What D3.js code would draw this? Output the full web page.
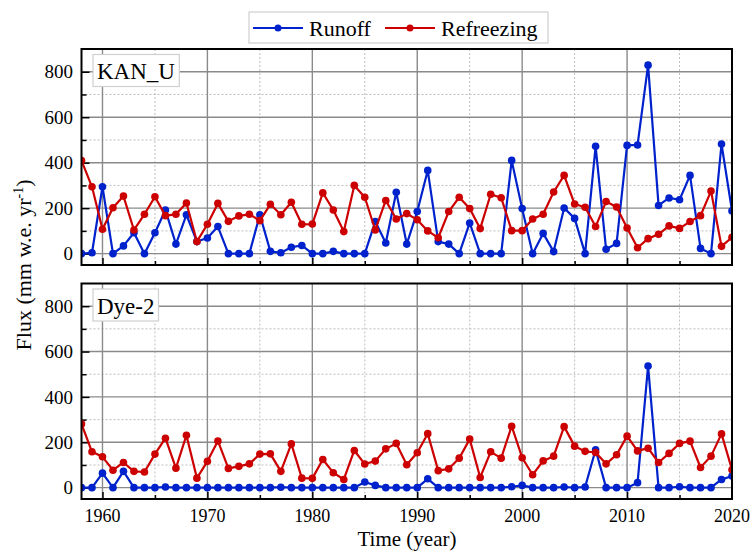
<!DOCTYPE html>
<html>
<head>
<meta charset="utf-8">
<script src="https://cdn.jsdelivr.net/npm/d3@7"></script>
<style>
html,body{margin:0;padding:0;background:#fff;}
svg{display:block;font-family:"Liberation Serif","Times New Roman",serif;}
</style>
</head>
<body>
<svg id="chart" width="751" height="551"></svg>
<script>
const years = [1958,1959,1960,1961,1962,1963,1964,1965,1966,1967,
  1968,1969,1970,1971,1972,1973,1974,1975,1976,1977,
  1978,1979,1980,1981,1982,1983,1984,1985,1986,1987,
  1988,1989,1990,1991,1992,1993,1994,1995,1996,1997,
  1998,1999,2000,2001,2002,2003,2004,2005,2006,2007,
  2008,2009,2010,2011,2012,2013,2014,2015,2016,2017,
  2018,2019,2020];

const kanRunoff = [0,4,294,0,34,92,0,92,192,42,
  171,53,69,119,0,0,0,171,10,4,
  28,36,0,0,10,0,0,0,141,47,
  270,42,185,366,53,42,0,135,0,0,
  0,410,198,0,89,9,201,155,0,472,
  19,45,476,478,829,212,245,237,344,23,
  0,482,188];
const kanRefreezing = [409,294,107,202,253,104,173,250,167,173,
  223,53,129,221,142,166,173,145,217,171,
  226,129,130,267,192,97,300,248,104,234,
  152,176,149,100,70,185,248,198,110,261,
  246,101,101,152,173,271,344,218,204,119,
  229,205,113,26,66,85,122,111,141,167,
  275,32,72];
const dyeRunoff = [0,0,64,0,72,0,0,0,3,0,
  0,0,0,0,0,0,0,0,0,2,
  0,0,0,0,0,0,0,25,10,0,
  0,0,0,39,0,0,0,0,0,0,
  0,4,10,0,0,0,3,0,3,167,
  0,0,0,22,536,0,0,4,0,0,
  0,36,51];
const dyeRefreezing = [281,158,136,77,111,72,69,148,218,86,
  231,42,116,206,85,94,105,148,149,72,
  193,42,41,124,66,36,164,104,117,171,
  195,101,154,238,75,83,130,214,45,158,
  130,271,132,57,118,139,269,183,160,155,
  105,145,227,162,174,111,151,195,205,89,
  139,237,79];

const xTicks = [1960,1970,1980,1990,2000,2010,2020];
const yTickLabels = [0,200,400,600,800];
const seriesNames = ["Runoff","Refreezing"];
const seriesColors = ["#0022cc","#cc0000"];
const panelNames = ["KAN_U","Dye-2"];

const svg = d3.select("#chart");
const left = 81.5, right = 732;
const panels = [
  {name: panelNames[0], top: 49, bottom: 265, runoff: kanRunoff, refr: kanRefreezing},
  {name: panelNames[1], top: 283.5, bottom: 499, runoff: dyeRunoff, refr: dyeRefreezing}
];

const x = d3.scaleLinear().domain([1958, 2020]).range([left, right]);

panels.forEach((p, pi) => {
  const y = d3.scaleLinear().domain([-50, 900]).range([p.bottom, p.top]);
  const g = svg.append("g");
  const clipId = "clip" + pi;
  svg.append("clipPath").attr("id", clipId).append("rect")
    .attr("x", left).attr("y", p.top).attr("width", right-left).attr("height", p.bottom-p.top);

  const minorY = d3.range(100, 900, 200);
  const minorX = d3.range(1965, 2020, 10);
  g.selectAll(".mgy").data(minorY).join("line")
    .attr("x1", left).attr("x2", right).attr("y1", d=>y(d)).attr("y2", d=>y(d))
    .attr("stroke", "#bdbdbd").attr("stroke-width", 1).attr("stroke-dasharray", "2,2");
  g.selectAll(".mgx").data(minorX).join("line")
    .attr("y1", p.top).attr("y2", p.bottom).attr("x1", d=>x(d)).attr("x2", d=>x(d))
    .attr("stroke", "#bdbdbd").attr("stroke-width", 1).attr("stroke-dasharray", "2,2");
  g.selectAll(".gy").data(yTickLabels).join("line")
    .attr("x1", left).attr("x2", right).attr("y1", d=>y(d)).attr("y2", d=>y(d))
    .attr("stroke", "#8a8a8a").attr("stroke-width", 1.4);
  g.selectAll(".gx").data(xTicks.filter(d=>d<2020)).join("line")
    .attr("y1", p.top).attr("y2", p.bottom).attr("x1", d=>x(d)).attr("x2", d=>x(d))
    .attr("stroke", "#8a8a8a").attr("stroke-width", 1.4);

  const yAxis = d3.axisRight(y).tickValues(d3.range(0, 900, 100)).tickSize(5).tickFormat("");
  const ya = g.append("g").attr("transform", `translate(${left},0)`).call(yAxis);
  ya.select(".domain").remove();
  ya.selectAll(".tick line").attr("stroke", "#000").attr("stroke-width", 1.5)
    .attr("x2", d => d % 200 === 0 ? 8 : 5);
  const xAxis = d3.axisTop(x).tickValues(d3.range(1960, 2020, 5)).tickSize(5).tickFormat("");
  const xa = g.append("g").attr("transform", `translate(0,${p.bottom})`).call(xAxis);
  xa.select(".domain").remove();
  xa.selectAll(".tick line").attr("stroke", "#000").attr("stroke-width", 1.5)
    .attr("y2", d => d % 10 === 0 ? -7 : -4);

  g.selectAll(".yl").data(yTickLabels).join("text")
    .attr("x", 73).attr("y", d=>y(d)).attr("dy", "0.35em")
    .attr("text-anchor", "end").attr("font-size", 19).text(d=>d);

  const data = [p.runoff, p.refr];
  const plot = g.append("g").attr("clip-path", `url(#${clipId})`);
  data.forEach((vals, si) => {
    const line = d3.line().x((d,i)=>x(years[i])).y(d=>y(d));
    plot.append("path").datum(vals).attr("d", line)
      .attr("fill", "none").attr("stroke", seriesColors[si]).attr("stroke-width", 2.2)
      .attr("stroke-linejoin", "round");
    plot.selectAll(null).data(vals).join("circle")
      .attr("cx", (d,i)=>x(years[i])).attr("cy", d=>y(d)).attr("r", 3.8)
      .attr("fill", seriesColors[si]);
  });

  g.append("rect").attr("x", left).attr("y", p.top).attr("width", right-left).attr("height", p.bottom-p.top)
    .attr("fill", "none").attr("stroke", "#000").attr("stroke-width", 2);

  const lab = g.append("g");
  const t = lab.append("text").attr("x", 97).attr("y", p.top + 30).attr("font-size", 23).text(p.name);
  const bb = t.node().getBBox();
  lab.insert("rect", "text").attr("x", 93).attr("y", p.top + 5.5)
    .attr("width", bb.width + 8).attr("height", 32)
    .attr("fill", "#fff").attr("stroke", "#cfcfcf").attr("stroke-width", 1.2);
});

svg.selectAll(".xl").data(xTicks).join("text")
  .attr("x", d=>x(d)).attr("y", 522).attr("text-anchor", "middle").attr("font-size", 18).text(d=>d);

svg.append("text").attr("x", 407).attr("y", 546).attr("text-anchor", "middle").attr("font-size", 21).text("Time (year)");
const yt = svg.append("text").attr("transform", "translate(31,265) rotate(-90)")
  .attr("text-anchor", "middle").attr("font-size", 22);
yt.append("tspan").text("Flux (mm w.e. yr");
yt.append("tspan").attr("dy", -8).attr("font-size", 14).text("-1");
yt.append("tspan").attr("dy", 8).text(")");

const lg = svg.append("g");
lg.append("rect").attr("x", 249).attr("y", 12).attr("width", 299).attr("height", 31)
  .attr("fill", "#fff").attr("stroke", "#cfcfcf").attr("stroke-width", 1.2);
const legX = [[253, 303, 309], [385, 435, 441]];
seriesNames.forEach((n, i) => {
  const [a, b, tx] = legX[i];
  lg.append("line").attr("x1", a).attr("x2", b).attr("y1", 28).attr("y2", 28)
    .attr("stroke", seriesColors[i]).attr("stroke-width", 2.2);
  lg.append("circle").attr("cx", (a+b)/2).attr("cy", 28).attr("r", 3.5).attr("fill", seriesColors[i]);
  lg.append("text").attr("x", tx).attr("y", 36).attr("font-size", 22).text(n);
});
</script>
</body>
</html>
